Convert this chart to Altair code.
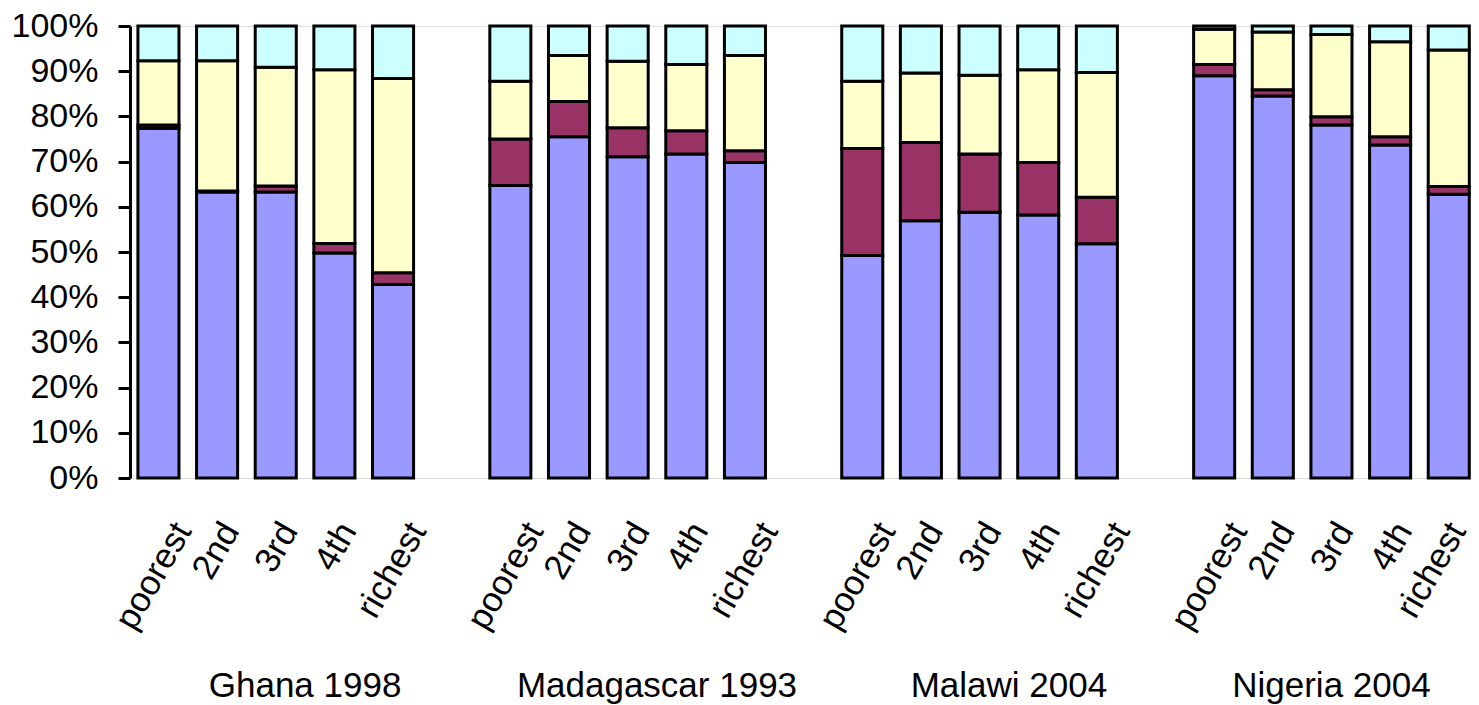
import json
import altair as alt
import pandas as pd

# ---- data (percent of households) ----
surveys = ["Ghana 1998", "Madagascar 1993", "Malawi 2004", "Nigeria 2004"]
quintiles = ["poorest", "2nd", "3rd", "4th", "richest"]
components = ["segment 1", "segment 2", "segment 3", "segment 4"]
colors = ["#9999FF", "#993366", "#FFFFCC", "#CCFFFF"]

seg1 = [77.4, 63.3, 63.3, 49.8, 42.8,
        64.7, 75.5, 71.1, 71.7, 69.8,
        49.2, 56.9, 58.8, 58.2, 51.8,
        89.0, 84.5, 78.1, 73.7, 62.8]
seg2 = [0.7, 0.2, 1.3, 2.1, 2.6,
        10.3, 7.8, 6.4, 5.1, 2.6,
        23.7, 17.3, 12.9, 11.6, 10.3,
        2.5, 1.4, 1.8, 1.8, 1.7]
seg3 = [14.2, 28.8, 26.3, 38.4, 43.0,
        12.8, 10.2, 14.7, 14.7, 21.1,
        14.9, 15.4, 17.4, 20.5, 27.6,
        7.8, 12.8, 18.2, 21.0, 30.2]
seg4 = [7.7, 7.7, 9.1, 9.7, 11.6,
        12.2, 6.5, 7.8, 8.5, 6.5,
        12.2, 10.4, 10.9, 9.7, 10.3,
        0.7, 1.3, 1.9, 3.5, 5.3]
y_ticks = [0, 0.1, 0.2, 0.3, 0.4, 0.5, 0.6, 0.7, 0.8, 0.9, 1.0]

# ---- tables built from the arrays ----
slots_per_group = len(quintiles) + 1  # one empty category slot between surveys
rows = []
slot_values = []
for g, survey in enumerate(surveys):
    for q, quint in enumerate(quintiles):
        i = g * len(quintiles) + q
        slot = g * slots_per_group + q
        slot_values.append(slot)
        base = 0.0
        for comp, arr in zip(components, [seg1, seg2, seg3, seg4]):
            v = arr[i]
            rows.append(dict(survey=survey, quintile=quint, slot=slot,
                             component=comp, y0=base / 100, y1=(base + v) / 100))
            base += v
df = pd.DataFrame(rows)

last_slot = max(slot_values)
grows = []
for g, survey in enumerate(surveys):
    first = g * slots_per_group
    last = min(first + slots_per_group - 1, last_slot)
    grows.append(dict(survey=survey, center=(first + last) / 2))
gdf = pd.DataFrame(grows)

FONT = "Liberation Sans"
FS = 35
label_expr = json.dumps(quintiles + [""]) + "[datum.value % " + str(slots_per_group) + "]"
long_test = "datum.value % 6 == 0 || datum.value % 6 == 4"
last_test = "datum.value == " + str(last_slot)

xscale = alt.Scale(domain=[-0.485, 22.345], nice=False, zero=False)

bars = alt.Chart(df).transform_calculate(
    xa="datum.slot - 0.35", xb="datum.slot + 0.35"
).mark_rect(stroke="black", strokeWidth=3).encode(
    x=alt.X("xa:Q", scale=xscale, title=None,
            axis=alt.Axis(values=slot_values, labelExpr=label_expr,
                          grid=False, domain=False, ticks=False, tickSize=0,
                          labelFontSize=FS, labelFont=FONT, labelColor="black",
                          labelAngle=300, labelAlign="right", labelBaseline="middle",
                          labelPadding=47,
                          labelOffset={"condition": [{"test": last_test, "value": 8},
                                                     {"test": long_test, "value": 24}],
                                       "value": 13},
                          labelOverlap=False, labelBound=False, labelFlush=False)),
    x2="xb:Q",
    y=alt.Y("y0:Q", scale=alt.Scale(domain=[0, 1], nice=False), title=None,
            axis=alt.Axis(values=y_ticks, format=".0%", grid=False,
                          labelFontSize=34, labelFont=FONT, labelColor="black",
                          labelPadding=20, tickSize=12, tickWidth=3, tickColor="black",
                          domainColor="black", domainWidth=3,
                          labelOverlap=False, labelFlush=False, labelBound=False)),
    y2="y1:Q",
    color=alt.Color("component:N", scale=alt.Scale(domain=components, range=colors), legend=None),
)

glabels = alt.Chart(gdf).mark_text(fontSize=FS, font=FONT, color="black",
                                   baseline="alphabetic", align="center").encode(
    x=alt.X("center:Q", scale=xscale),
    y=alt.value(671),
    text="survey:N",
)

chart = alt.layer(bars, glabels).properties(
    width=1339, height=452,
    autosize=alt.AutoSizeParams(type="none"),
    padding={"left": 122, "top": 18, "right": 2, "bottom": 227},
).configure_view(stroke="#808080", strokeWidth=2.5).configure(font=FONT)

chart.save("out.html", embed_options={"renderer": "svg", "actions": False})
